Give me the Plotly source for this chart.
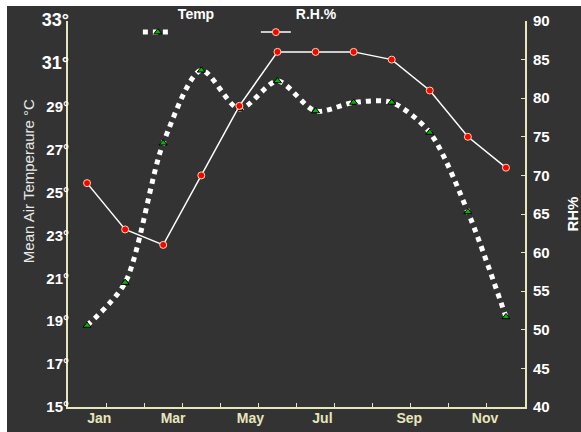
import plotly.graph_objects as go

months = ["Jan", "Feb", "Mar", "Apr", "May", "Jun", "Jul", "Aug", "Sep", "Oct", "Nov", "Dec"]
temp = [18.8, 20.8, 27.3, 30.7, 28.9, 30.2, 28.8, 29.2, 29.2, 27.8, 24.1, 19.2]
rh = [69, 63, 61, 70, 79, 86, 86, 86, 85, 81, 75, 71]

temp_ticks = [15, 17, 19, 21, 23, 25, 27, 29, 31, 33]
rh_ticks = [40, 45, 50, 55, 60, 65, 70, 75, 80, 85, 90]
month_labels = ["Jan", "Mar", "May", "Jul", "Sep", "Nov"]
month_label_pos = [0.82, 2.76, 4.79, 6.68, 8.96, 10.95]

x_pos = [i + 0.5 for i in range(len(months))]

FONT = "Arial, Liberation Sans, sans-serif"
BG = "#333333"
AX = "#e8e6bc"

fig = go.Figure()
fig.add_trace(go.Scatter(
    x=x_pos, y=temp, name="<b>Temp</b><br>\u00a0", mode="lines+markers",
    line=dict(color="white", width=5, dash="dot", shape="spline", smoothing=0.8),
    marker=dict(symbol="triangle-up", size=7, color="#00b400", line=dict(color="black", width=1)),
    xaxis="x", yaxis="y", text=months, hovertemplate="%{text}: %{y}°C<extra></extra>",
))
fig.add_trace(go.Scatter(
    x=x_pos, y=rh, name="<b>R.H.%</b><br>\u00a0", mode="lines+markers",
    line=dict(color="white", width=1.5),
    marker=dict(symbol="circle", size=7, color="#ff0000", line=dict(color="#f3d8a8", width=1)),
    xaxis="x", yaxis="y2", text=months, hovertemplate="%{text}: %{y}%<extra></extra>",
))
# invisible trace to carry the month-label axis
fig.add_trace(go.Scatter(x=[0, 12], y=[None, None], xaxis="x2", yaxis="y",
                         showlegend=False, hoverinfo="skip"))

def tick_txt(v):
    if v >= 31:
        return "<span style='font-size:18px'>%d°</span>" % v
    return "%d°" % v

fig.update_layout(
    width=574, height=426,
    margin=dict(l=61, r=56, t=15, b=25, autoexpand=False),
    paper_bgcolor=BG, plot_bgcolor=BG,
    font=dict(family=FONT, color="white"),
    showlegend=True,
    legend=dict(orientation="h", xref="container", yref="paper",
                x=0.228, y=1.0588, xanchor="left", yanchor="top",
                entrywidth=73, entrywidthmode="pixels", valign="bottom",
                bgcolor="rgba(0,0,0,0)", font=dict(size=14, color="white", family=FONT),
                tracegroupgap=0),
    xaxis=dict(range=[0, 12], tickvals=list(range(1, 12)), showticklabels=False,
               ticks="inside", ticklen=4, tickcolor=AX, tickwidth=1,
               showline=True, linecolor=AX, linewidth=2, showgrid=False, zeroline=False),
    xaxis2=dict(range=[0, 12], overlaying="x", side="bottom", tickvals=month_label_pos,
                ticktext=month_labels, ticks="", showline=False, showgrid=False, zeroline=False,
                ticklabelstandoff=1,
                tickfont=dict(size=14, color=AX, family=FONT, weight="bold")),
    yaxis=dict(range=[15, 33], tickvals=temp_ticks, ticktext=[tick_txt(v) for v in temp_ticks],
               ticks="", showline=True, linecolor=AX, linewidth=2, showgrid=False, zeroline=False,
               ticklabelstandoff=-6,
               tickfont=dict(size=15, color="white", family=FONT, weight="bold")),
    yaxis2=dict(range=[40, 90], tickvals=rh_ticks, overlaying="y", side="right",
                ticks="inside", ticklen=4, tickcolor=AX,
                showline=True, linecolor=AX, linewidth=2, showgrid=False, zeroline=False,
                ticklabelstandoff=3,
                tickfont=dict(size=15, color="white", family=FONT, weight="bold")),
    annotations=[
        dict(text="Mean Air Temperaure °C", textangle=-90, xref="paper", yref="paper",
             x=-0.0875, y=0.585, showarrow=False, xanchor="center", yanchor="middle",
             font=dict(size=15, color="#e8e8e8", family=FONT)),
        dict(text="<b>RH%</b>", textangle=-90, xref="paper", yref="paper",
             x=1.102, y=0.5, showarrow=False, xanchor="center", yanchor="middle",
             font=dict(size=15, color="white", family=FONT)),
    ],
)

fig.write_html("out.html", post_script="document.body.style.margin='6px 0 0 7px';")
